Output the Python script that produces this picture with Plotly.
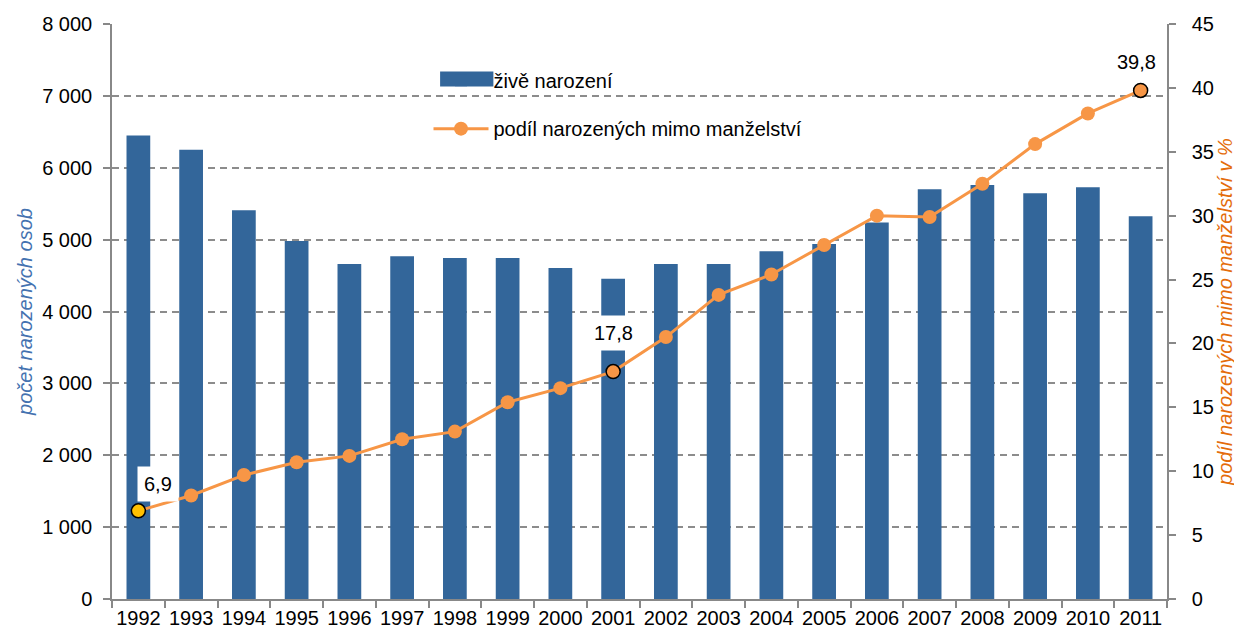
import plotly.graph_objects as go

years = [str(y) for y in range(1992, 2012)]
births = [6450, 6250, 5410, 4980, 4660, 4770, 4745, 4745, 4605, 4455,
          4660, 4660, 4840, 4940, 5240, 5700, 5760, 5645, 5730, 5325]
share = [6.9, 8.1, 9.7, 10.7, 11.2, 12.5, 13.1, 15.4, 16.5, 17.8,
         20.5, 23.8, 25.4, 27.7, 30.0, 29.9, 32.5, 35.6, 38.0, 39.8]
highlight_idx = [0, 9, 19]
highlight_colors = ["#FFC000", "#F79646", "#F79646"]
label_offsets = {0: (20, 27), 9: (0, 39), 19: (-4, 28)}

FONT = "Liberation Sans, Arial, sans-serif"
BAR_C = "#33669A"
LINE_C = "#F79646"
GRID_C = "#8C8C8C"
AXIS_C = "#888888"

fig = go.Figure()
fig.add_trace(go.Bar(
    x=years, y=births, name="živě narození", marker_color=BAR_C,
    marker_line_width=0, yaxis="y", legend="legend"))
fig.add_trace(go.Scatter(
    x=years, y=share, name="podíl narozených mimo manželství",
    mode="lines+markers", line=dict(color=LINE_C, width=3),
    marker=dict(color=LINE_C, size=14), yaxis="y2", legend="legend2"))
fig.add_trace(go.Scatter(
    x=[years[i] for i in highlight_idx], y=[share[i] for i in highlight_idx],
    mode="markers", showlegend=False, yaxis="y2",
    marker=dict(color=highlight_colors, size=14,
                line=dict(color="black", width=1.5))))

for i in highlight_idx:
    dx, dy = label_offsets[i]
    fig.add_annotation(
        x=i, y=share[i], xref="x", yref="y2",
        text=f"{share[i]:.1f}".replace(".", ","), showarrow=False,
        xshift=dx, yshift=dy, bgcolor="white", borderpad=6,
        font=dict(family=FONT, size=20, color="black"))

# white box behind the legend (interrupts the gridline)
fig.add_shape(type="rect", xref="paper", yref="paper",
              x0=0.253, x1=0.714, y0=0.79, y1=0.951,
              fillcolor="white", line_width=0, layer="between")
# wide legend swatch for the bar series
fig.add_shape(type="rect", xref="paper", yref="paper",
              x0=0.311, x1=0.3615, y0=0.8915, y1=0.9175,
              fillcolor=BAR_C, line_width=0, layer="above")

fig.update_layout(
    width=1234, height=626,
    margin=dict(l=104, r=75, t=16, b=35),
    paper_bgcolor="white", plot_bgcolor="white",
    separators=", ",
    font=dict(family=FONT, size=20, color="black"),
    bargap=0.55,
    xaxis=dict(type="category", range=[-0.5, len(years) - 0.5], automargin=False,
               showline=True, linecolor=AXIS_C, linewidth=1.5,
               ticks="outside", tickson="boundaries", ticklen=7, tickcolor=AXIS_C,
               tickwidth=1.5, showgrid=False, tickfont=dict(size=20), tickangle=0),
    yaxis=dict(range=[0, 8000], dtick=1000, tickformat=",d", automargin=False,
               showline=True, linecolor=AXIS_C, linewidth=1.5,
               ticks="outside", ticklen=7, tickcolor=AXIS_C, tickwidth=1.5,
               ticklabelstandoff=7,
               showgrid=True, gridcolor=GRID_C, gridwidth=1.5, griddash="7px,5px",
               zeroline=False,
               title=dict(text="počet narozených osob", standoff=4,
                          font=dict(family=FONT, size=20, color="#4472B0", style="italic"))),
    yaxis2=dict(range=[0, 45], dtick=5, overlaying="y", side="right", automargin=False,
                showline=True, linecolor=AXIS_C, linewidth=1.5,
                ticks="outside", ticklen=7, tickcolor=AXIS_C, tickwidth=1.5,
                ticklabelstandoff=12,
                showgrid=False, zeroline=False,
                title=dict(text="podíl narozených mimo manželství v %", standoff=4,
                           font=dict(family=FONT, size=20, color="#E46C0A", style="italic"))),
    legend=dict(x=0.30, y=0.902, xanchor="left", yanchor="middle",
                bgcolor="rgba(0,0,0,0)", itemwidth=55,
                font=dict(family=FONT, size=20)),
    legend2=dict(x=0.30, y=0.818, xanchor="left", yanchor="middle",
                 bgcolor="rgba(0,0,0,0)", itemwidth=55,
                 font=dict(family=FONT, size=20)),
)

fig.write_html("out.html")
